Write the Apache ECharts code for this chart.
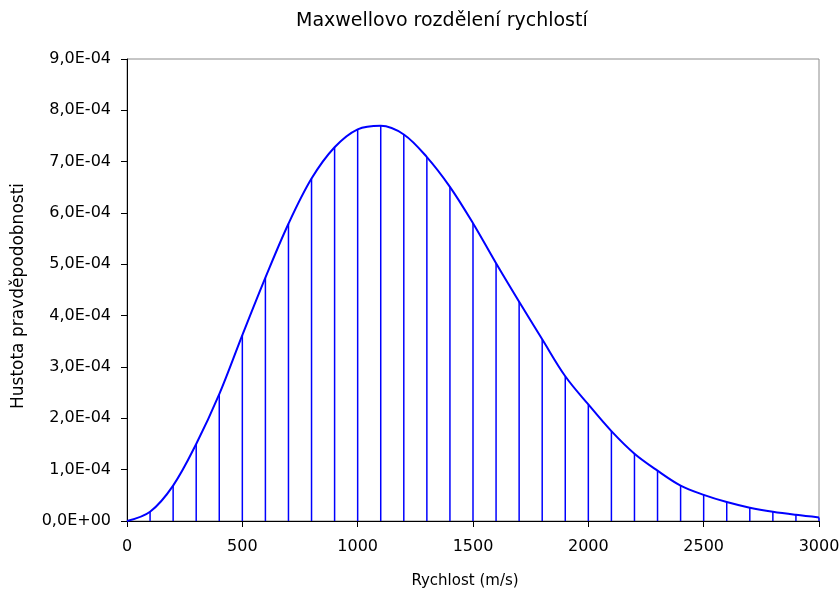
<!DOCTYPE html>
<html>
<head>
<meta charset="utf-8">
<script src="https://cdn.jsdelivr.net/npm/echarts@6/dist/echarts.min.js"></script>
<style>html,body{margin:0;padding:0;background:#fff;}#c{width:839px;height:592px;}</style>
</head>
<body>
<div id="c"></div>
<script>
// Velocity (m/s) at each drop line
var speeds = [0,100,200,300,400,500,600,700,800,900,1000,1100,1200,1300,1400,1500,1600,1700,1800,1900,2000,2100,2200,2300,2400,2500,2600,2700,2800,2900,3000];
// Probability density (x 1e-4)
var densityE4 = [0,0.18,0.69,1.50,2.47,3.62,4.74,5.79,6.67,7.28,7.63,7.70,7.53,7.09,6.51,5.80,5.02,4.27,3.54,2.82,2.27,1.75,1.31,0.98,0.69,0.51,0.37,0.26,0.18,0.12,0.07];
var titleText = 'Maxwellovo rozdělení rychlostí';
var xName = 'Rychlost (m/s)';
var yName = 'Hustota pravděpodobnosti';

var pts = speeds.map(function(v, i){ return [v, densityE4[i] * 1e-4]; });

function fmtY(v){
  var s = v.toExponential(1);
  var parts = s.split('e');
  var m = parts[0].replace('.', ',');
  var e = parseInt(parts[1], 10);
  var sign = e < 0 ? '-' : '+';
  var a = Math.abs(e);
  return m + 'E' + sign + (a < 10 ? '0' + a : '' + a);
}

var font = 'DejaVu Sans';
var chart = echarts.init(document.getElementById('c'), null, {renderer: 'canvas'});
chart.setOption({
  backgroundColor: '#ffffff',
  animation: false,
  title: {
    text: titleText,
    left: 291, top: 7,
    textStyle: {fontFamily: font, fontSize: 19, fontWeight: 'normal', color: '#000'}
  },
  grid: {
    left: 127, right: 20, top: 59, bottom: 71,
    containLabel: false, outerBoundsMode: 'none',
    show: true, borderColor: '#8c8c8c', borderWidth: 1, backgroundColor: 'transparent'
  },
  xAxis: {
    type: 'value', min: 0, max: 3000, interval: 500,
    name: xName, nameLocation: 'middle', nameGap: 53,
    nameTextStyle: {fontFamily: font, fontSize: 15, color: '#000', padding: [0, 16, 0, 0]},
    axisLine: {show: true, onZero: false, lineStyle: {color: '#000', width: 1}},
    axisTick: {show: true, length: 6, lineStyle: {color: '#000'}},
    axisLabel: {fontFamily: font, fontSize: 16, color: '#000', margin: 18, formatter: function(v){ return String(v); }},
    splitLine: {show: false}
  },
  yAxis: {
    type: 'value', min: 0, max: 9e-4, interval: 1e-4,
    name: yName, nameLocation: 'middle', nameGap: 100, nameRotate: 90,
    nameTextStyle: {fontFamily: font, fontSize: 17, color: '#000', padding: [0, 12, 0, 0]},
    axisLine: {show: true, lineStyle: {color: '#000', width: 1}},
    axisTick: {show: true, length: 6, lineStyle: {color: '#000'}},
    axisLabel: {fontFamily: font, fontSize: 16, color: '#000', margin: 16, formatter: fmtY},
    splitLine: {show: false}
  },
  series: [
    {
      type: 'bar', data: pts, barWidth: 1.5, z: 2,
      itemStyle: {color: '#0000ff'}, silent: true
    },
    {
      type: 'line', data: pts, smooth: 0.35, symbol: 'none', z: 3,
      lineStyle: {color: '#0000ff', width: 2}, silent: true
    }
  ]
});
</script>
</body>
</html>
